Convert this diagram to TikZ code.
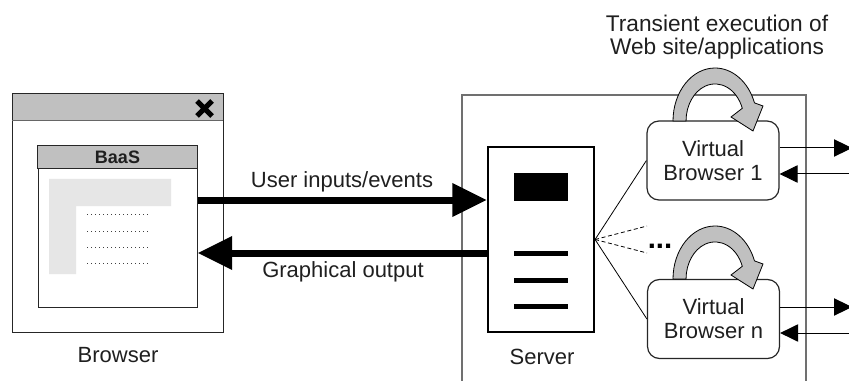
\documentclass[tikz,border=0pt]{standalone}
\usepackage{fontspec}
\setmainfont{Liberation Sans}
\usetikzlibrary{arrows.meta}
\definecolor{bargray}{HTML}{C0C0C0}
\definecolor{lgray}{HTML}{E6E6E6}
\definecolor{framegray}{HTML}{707070}
\begin{document}
\begin{tikzpicture}[x=0.75pt,y=-0.75pt,
  lbl/.style={font=\fontsize{16.5}{17.25}\selectfont,text=black!88,inner sep=0pt,align=center},
  big/.style={line width=5.25pt,-{Triangle[length=26pt,width=24pt]}},
  sarr/.style={line width=0.75pt,-{Triangle[length=13.5pt,width=13pt]}},
  vbox/.style={draw=black!85,line width=0.9pt,rounded corners=9pt,fill=white,
    minimum width=99pt,minimum height=59.25pt,inner sep=0pt,align=center,
    font=\fontsize{16.5}{18}\selectfont,text=black!88},
  loopar/.pic={
    \filldraw[fill=bargray,draw=black,line width=0.6pt]
      (-42,0) arc[start angle=180,end angle=340,x radius=42,y radius=53]
      -- (48,-15) -- (38,10) -- (16,-4) -- (27.3,-12.7)
      arc[start angle=340,end angle=180,x radius=29,y radius=37] -- cycle;
  }
]
\useasboundingbox (0,0) rectangle (849,381);

% browser window
\node[draw=black!85,line width=0.75pt,fill=white,minimum width=158.25pt,
  minimum height=178.5pt,inner sep=0pt] (win) at (117.5,213) {};
\fill[bargray] (12.5,94.5) rectangle (222.5,121);
\draw[black!60,line width=0.75pt] (12,121) -- (223,121);
\draw[line width=3.9pt] (197,101) -- (212,116) (212,101) -- (197,116);

% BaaS box
\node[draw=black!85,fill=white,line width=0.75pt,minimum width=119.25pt,
  minimum height=120.75pt,inner sep=0pt] (baas) at (117.5,226.5) {};
\filldraw[fill=bargray,draw=black!85,line width=0.75pt] (baas.north west) rectangle (197,169);
\node[font=\bfseries\fontsize{13.5}{14}\selectfont,text=black!88,inner sep=0pt] (baast) at (117.5,157.5) {BaaS};
\fill[lgray] (49,179) -- (171,179) -- (171,206) -- (76,206) -- (76,274) -- (49,274) -- cycle;
\foreach \y in {214,231,247,263}
  \draw[black!75,line width=0.6pt,dash pattern=on 0.75pt off 2.25pt] (87,\y) -- (148,\y);
\node[lbl] (bl) at (118,355) {Browser};

% server area
\draw[framegray,line width=1.1pt] (462,385) -- (462,95) -- (806,95) -- (806,385);
\node[draw,line width=1.6pt,fill=white,minimum width=79.5pt,minimum height=138.75pt,
  inner sep=0pt] (srv) at (541,239.5) {};
\fill (514,173) rectangle (568,201);
\foreach \y in {253,280,306}
  \draw[line width=3.75pt] (514,\y) -- (568,\y);
\node[lbl] (sl) at (542,357) {Server};

% big arrows
\draw[big] (baas.east |- 0,200) -- (srv.west |- 0,200);
\draw[big] (srv.west |- 0,253) -- (baas.east |- 0,253);
\node[lbl] (ui) at (342,182) {User inputs/events};
\node[lbl] (go) at (343,272) {Graphical output};

% virtual browsers
\node[vbox] (vb1) at (713,160.5) {Virtual\\Browser 1};
\node[vbox] (vbn) at (713.5,319) {Virtual\\Browser n};

% fan
\draw[line width=0.6pt] (srv.east) -- (vb1.west);
\draw[line width=0.6pt] (srv.east) -- (vbn.west);
\coordinate (d1) at (647,226);
\coordinate (d2) at (647,253);
\draw[line width=0.6pt,dash pattern=on 3pt off 2pt] (srv.east) -- (d1);
\draw[line width=0.6pt,dash pattern=on 3pt off 2pt] (srv.east) -- (d2);
\node[font=\bfseries\fontsize{22}{24}\selectfont,inner sep=0pt] (dots) at (660,246) {...};

% loops
\pic at (715,121) {loopar};
\pic at (715,279) {loopar};
\node[lbl,font=\fontsize{17}{17.25}\selectfont] (title) at (717,37.5) {Transient execution of\\Web site/applications};

% right arrows
\coordinate (o1) at (852,148);
\coordinate (i1) at (852,174);
\coordinate (on) at (852,307);
\coordinate (in) at (852,333);
\draw[sarr] (vb1.east |- o1) -- (o1);
\draw[sarr] (i1) -- (vb1.east |- i1);
\draw[sarr] (vbn.east |- on) -- (on);
\draw[sarr] (in) -- (vbn.east |- in);
\end{tikzpicture}
\end{document}
